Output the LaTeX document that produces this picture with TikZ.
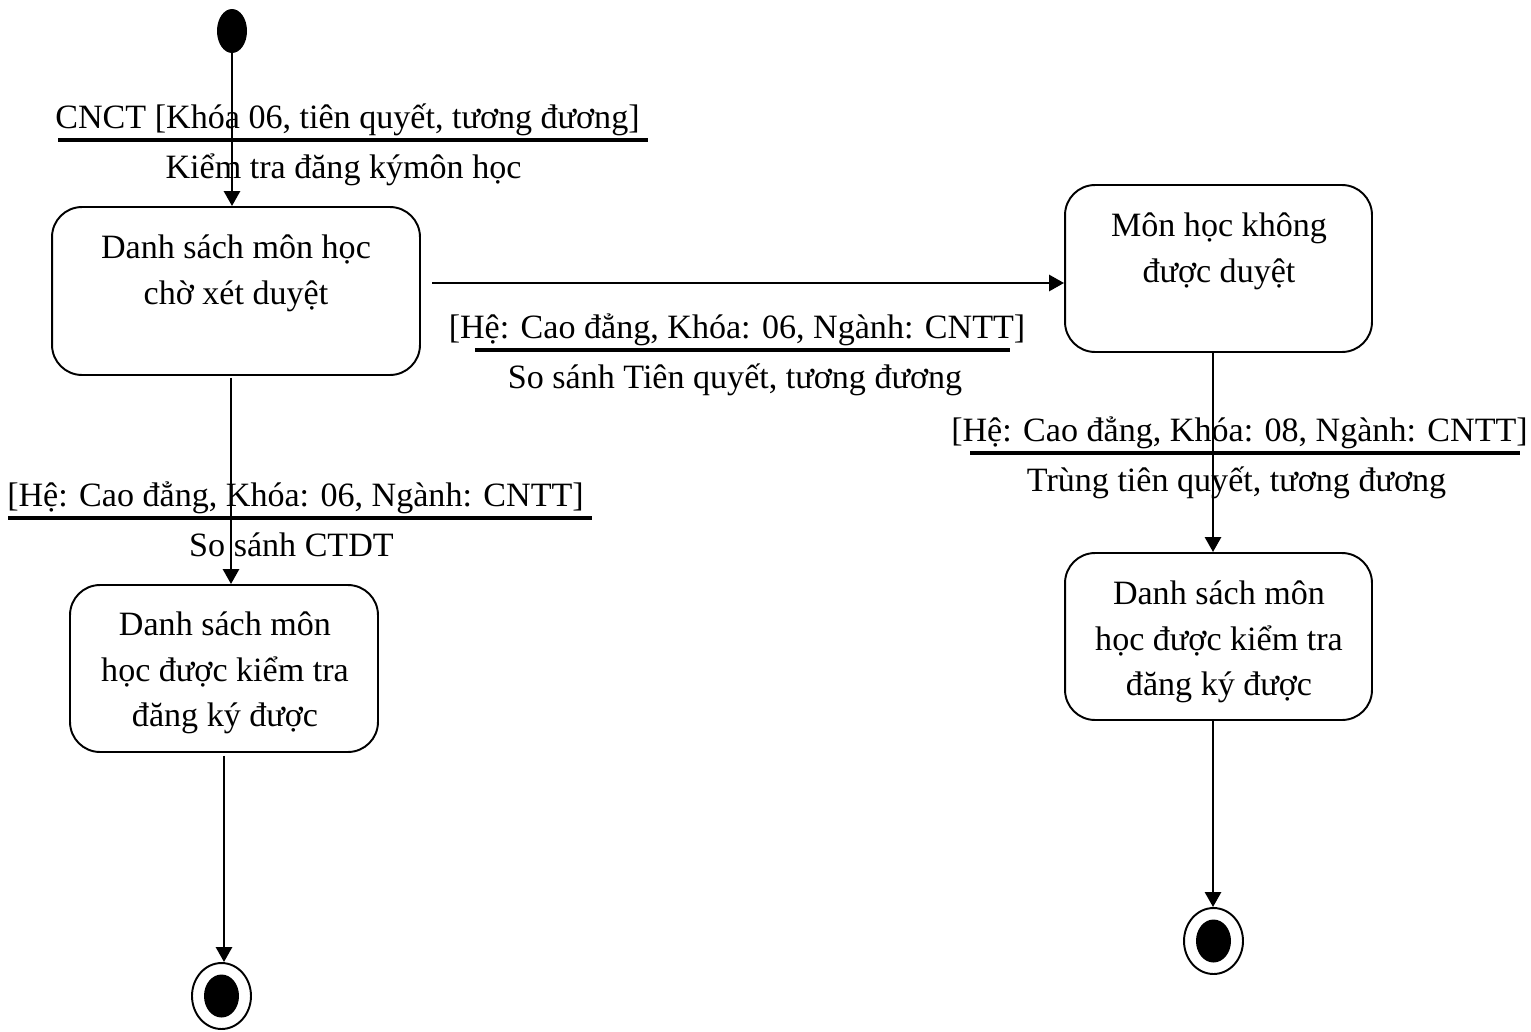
\documentclass[tikz,border=0pt]{standalone}
\usepackage{fontspec}
\setmainfont{Liberation Serif}
\usetikzlibrary{arrows.meta,shapes.geometric}
\begin{document}
\begin{tikzpicture}[x=0.02cm,y=-0.02cm,
  txt/.style={font=\fontsize{19.4pt}{26pt}\selectfont, inner sep=0pt},
  state/.style={draw, line width=1.1pt, rounded corners=0.6cm, inner sep=0pt},
  flow/.style={line width=1.6pt, -{Triangle[length=0.3cm,width=0.32cm]}},
  bar/.style={line width=2.3pt},
  startdot/.style={ellipse, fill, inner sep=0pt, minimum width=0.6cm, minimum height=0.88cm},
  endring/.style={ellipse, draw, fill=white, line width=1.1pt, inner sep=0pt, minimum width=1.18cm, minimum height=1.32cm},
  enddot/.style={ellipse, fill, inner sep=0pt, minimum width=0.7cm, minimum height=0.86cm},
]
\useasboundingbox (0,0) rectangle (1531,1031);

% states
\node[state, minimum width=7.36cm, minimum height=3.36cm] (s1) at (236,291) {};
\node[txt, align=center] (t1) at (236,273) {Danh sách môn học\\chờ xét duyệt};

\node[state, minimum width=6.14cm, minimum height=3.34cm] (s2) at (1218.5,268.5) {};
\node[txt, align=center] (t2) at (1219,251) {Môn học không\\được duyệt};

\node[state, minimum width=6.16cm, minimum height=3.34cm] (s3) at (224,668.5) {};
\node[txt, align=center] (t3) at (225,673) {Danh sách môn\\học được kiểm tra\\đăng ký được};

\node[state, minimum width=6.14cm, minimum height=3.34cm] (s4) at (1218.5,636.5) {};
\node[txt, align=center] (t4) at (1219,642) {Danh sách môn\\học được kiểm tra\\đăng ký được};

% pseudo states
\node[startdot] (init) at (232,31) {};
\node[endring] (fin1) at (221.5,996) {};
\node[enddot] (fin1core) at (fin1) {};
\node[endring] (fin2) at (1213.5,941) {};
\node[enddot] (fin2core) at (fin2) {};

% connector columns and rows
\coordinate (c1) at (231,0);
\coordinate (c2) at (1213,0);
\coordinate (c3) at (224,0);
\coordinate (h1) at (432,283);

% transitions
\draw[flow] (init.south) -- (init |- s1.north);
\draw[flow] ([yshift=-0.04cm]s1.south -| c1) -- (c1 |- s3.north);
\draw[flow] (h1) -- (h1 -| s2.west);
\draw[flow] (s2.south -| c2) -- (c2 |- s4.north);
\draw[flow] ([yshift=-0.06cm]s3.south -| c3) -- (c3 |- fin1.north);
\draw[flow] (s4.south -| c2) -- (c2 |- fin2.north);

% guard / action labels
\node[txt, anchor=base] (g1) at (347.5,128) {CNCT [Khóa 06, tiên quyết, tương đương]};
\draw[bar] (58,140) -- (648,140);
\node[txt, anchor=base] (a1) at (343.5,178) {Kiểm tra đăng kýmôn học};

\node[txt, anchor=base] (g2) at (737,338) {[Hệ: Cao đẳng, Khóa: 06, Ngành: CNTT]};
\draw[bar] (475,350) -- (1010,350);
\node[txt, anchor=base] (a2) at (735,388) {So sánh Tiên quyết, tương đương};

\node[txt, anchor=base] (g3) at (295.5,506) {[Hệ: Cao đẳng, Khóa: 06, Ngành: CNTT]};
\draw[bar] (8,518) -- (592,518);
\node[txt, anchor=base] (a3) at (291.5,556) {So sánh CTDT};

\node[txt, anchor=base] (g4) at (1239.5,441) {[Hệ: Cao đẳng, Khóa: 08, Ngành: CNTT]};
\draw[bar] (970,453) -- (1520,453);
\node[txt, anchor=base] (a4) at (1236.5,491) {Trùng tiên quyết, tương đương};
\end{tikzpicture}
\end{document}
